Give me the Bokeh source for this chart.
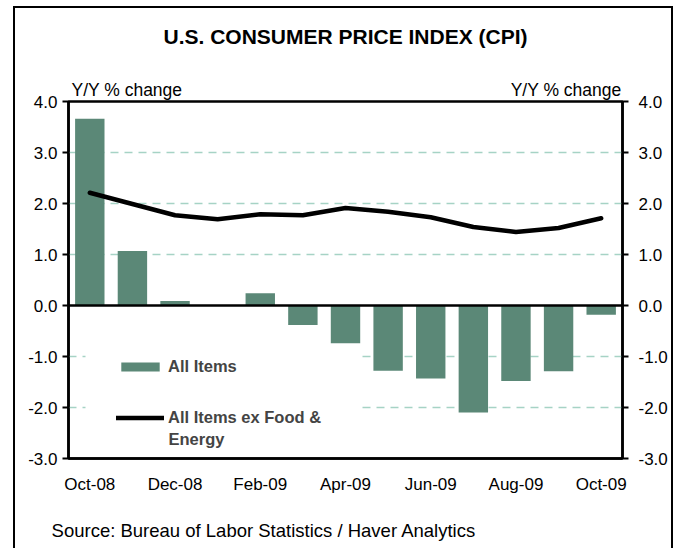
from bokeh.plotting import figure
from bokeh.models import (ColumnDataSource, Range1d, LinearAxis, FixedTicker,
                          NumeralTickFormatter, Span, Label, BoxAnnotation, Legend, LegendItem)
from bokeh.embed import file_html
from bokeh.resources import INLINE

months = ["Oct-08", "Nov-08", "Dec-08", "Jan-09", "Feb-09", "Mar-09", "Apr-09",
          "May-09", "Jun-09", "Jul-09", "Aug-09", "Sep-09", "Oct-09"]
all_items = [3.66, 1.07, 0.09, 0.0, 0.24, -0.38, -0.74, -1.28, -1.43, -2.10, -1.48, -1.29, -0.18]
core = [2.21, 1.99, 1.77, 1.69, 1.79, 1.77, 1.91, 1.84, 1.73, 1.54, 1.44, 1.52, 1.71]
shown_labels = ["Oct-08", "Dec-08", "Feb-09", "Apr-09", "Jun-09", "Aug-09", "Oct-09"]
y_ticks = [-3, -2, -1, 0, 1, 2, 3, 4]
grid_ticks = [-2, -1, 1, 2, 3]
title_text = "U.S. CONSUMER PRICE INDEX (CPI)"
unit_text = "Y/Y % change"
source_text = "Source: Bureau of Labor Statistics / Haver Analytics"

FONT = "Liberation Sans"
BAR = "#5b8877"
GRID = "#a6d3c5"
TICK_FS = "17px"

xs = list(range(len(months)))
src = ColumnDataSource(dict(x=xs, month=months, all_items=all_items, core=core))

p = figure(width=660, height=542, x_range=Range1d(-0.5, len(months) - 0.5),
           y_range=Range1d(-3, 4), output_backend="svg", toolbar_location=None,
           min_border_left=53, min_border_right=53, min_border_top=93, min_border_bottom=92,
           background_fill_color="white", border_fill_color="white")
p.margin = (6, 0, 0, 13)
p.styles = {"border": "2px solid black", "border-bottom": "none"}
p.outline_line_color = "black"
p.outline_line_width = 2.5
p.title.visible = False

# grid
p.xgrid.visible = False
p.ygrid.ticker = FixedTicker(ticks=grid_ticks)
p.ygrid.grid_line_color = GRID
p.ygrid.grid_line_dash = "8 6"
p.ygrid.grid_line_width = 1.3

# white box behind legend (hides gridlines there)
p.add_layout(BoxAnnotation(left=17, right=292, top=126, bottom=16,
                           left_units="screen", right_units="screen",
                           top_units="screen", bottom_units="screen",
                           fill_color="white", fill_alpha=1, line_alpha=0,
                           level="underlay"))

bars = p.vbar(x="x", top="all_items", width=0.69, source=src,
              fill_color=BAR, line_color=None)
line = p.line(x="x", y="core", source=src, line_color="black", line_width=4.5,
              line_join="round", line_cap="round")

p.add_layout(Span(location=0, dimension="width", line_color="black", line_width=2.5))

# y axes
def style_y(ax):
    ax.ticker = FixedTicker(ticks=y_ticks)
    ax.formatter = NumeralTickFormatter(format="0.0")
    ax.axis_line_color = "black"
    ax.axis_line_width = 2.5
    ax.major_tick_line_color = "black"
    ax.major_tick_line_width = 2
    ax.major_tick_out = 6
    ax.major_tick_in = 0
    ax.minor_tick_line_color = None
    ax.major_label_text_font = FONT
    ax.major_label_text_font_size = TICK_FS
    ax.major_label_text_color = "black"

style_y(p.yaxis[0])
p.yaxis[0].major_label_standoff = 5
right = LinearAxis()
style_y(right)
right.major_label_standoff = 10
p.add_layout(right, "right")

# x axis
xa = p.xaxis[0]
xa.ticker = FixedTicker(ticks=[months.index(m) for m in shown_labels])
xa.major_label_overrides = {months.index(m): m for m in shown_labels}
xa.axis_line_color = "black"
xa.axis_line_width = 2.5
xa.major_tick_line_color = None
xa.major_tick_out = 0
xa.major_tick_in = 0
xa.minor_tick_line_color = None
xa.major_label_standoff = 16
xa.major_label_text_font = FONT
xa.major_label_text_font_size = TICK_FS
xa.major_label_text_color = "black"

# pixel-based helper range for texts placed around the frame
p.extra_x_ranges = {"px": Range1d(0, 550)}

def text_axis(ticks, labels, standoff, size, **kw):
    return LinearAxis(x_range_name="px", ticker=FixedTicker(ticks=ticks),
                      major_label_overrides=dict(zip(ticks, labels)),
                      axis_line_color=None, major_tick_line_color=None,
                      major_tick_out=0, major_tick_in=0, minor_tick_line_color=None,
                      major_label_standoff=standoff, major_label_text_font=FONT,
                      major_label_text_font_size=size, major_label_text_color="black", **kw)

# "Y/Y % change" on both sides, with the chart title as this axis's label
yy_axis = text_axis([58, 494], [unit_text, unit_text], 2, "17.5px",
                    axis_label=title_text, axis_label_standoff=29,
                    axis_label_text_font=FONT, axis_label_text_font_size="21px",
                    axis_label_text_font_style="bold", axis_label_text_color="black")
p.add_layout(yy_axis, "above")

# source note below the month labels
p.add_layout(text_axis([194], [source_text], 23, "18.5px"), "below")

# legend
legend = Legend(items=[LegendItem(label="All Items", renderers=[bars]),
                       LegendItem(label="All Items ex Food &", renderers=[line])],
                location=(48, 31), glyph_width=48, glyph_height=11, label_standoff=4,
                padding=0, margin=0, spacing=32, background_fill_alpha=0,
                border_line_color=None, label_text_font=FONT,
                label_text_font_size="16.5px", label_text_font_style="bold")
p.add_layout(legend, "center")
p.add_layout(Label(x=100, y=20, x_units="screen", y_units="screen", text="Energy",
                   text_font=FONT, text_font_size="16.5px", text_font_style="bold",
                   text_align="left", text_baseline="middle"))

open("out.html", "w").write(file_html(p, INLINE))
